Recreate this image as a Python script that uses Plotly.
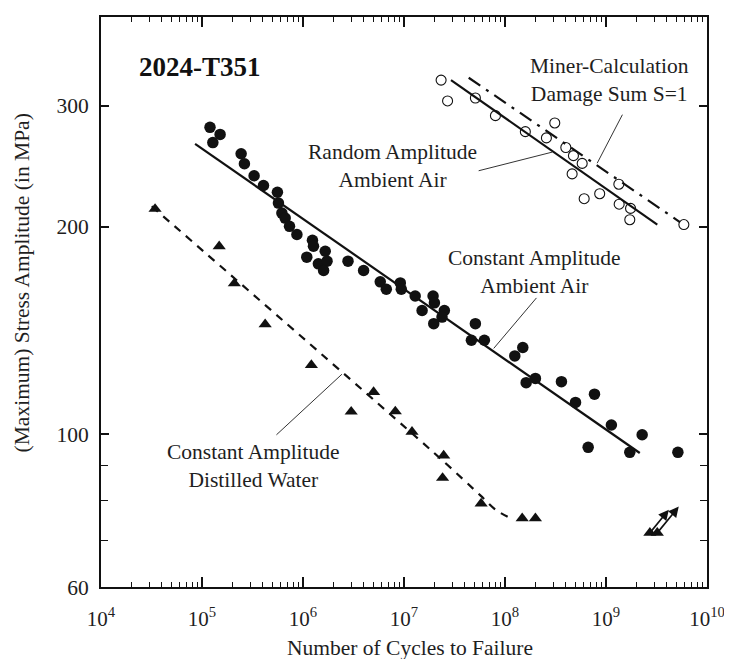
import numpy as np
import plotly.graph_objects as go

# ---------------- data ----------------
# Constant amplitude, ambient air (filled circles)
ca_air_N = [1.20e5, 1.51e5, 1.28e5, 2.44e5, 2.63e5, 3.28e5, 4.06e5, 5.58e5, 5.71e5, 6.18e5,
            6.66e5, 7.35e5, 8.70e5, 1.24e6, 1.27e6, 1.66e6, 1.09e6, 1.42e6, 1.73e6, 1.60e6,
            2.79e6, 3.98e6, 5.82e6, 6.68e6, 9.19e6, 9.40e6, 1.29e7, 1.51e7, 1.94e7, 2.00e7,
            2.51e7, 2.38e7, 1.97e7, 5.09e7, 4.65e7, 6.25e7, 1.25e8, 1.50e8, 1.62e8, 2.00e8,
            3.62e8, 4.99e8, 7.69e8, 1.13e9, 2.28e9, 6.66e8, 1.72e9, 5.15e9]
ca_air_S = [278.9, 272.4, 265.0, 255.3, 246.9, 237.2, 229.6, 224.5, 216.5, 209.4,
            205.9, 200.3, 194.9, 191.2, 187.4, 184.3, 180.7, 176.7, 178.3, 172.8,
            178.3, 172.8, 166.4, 162.3, 165.8, 162.3, 158.7, 151.2, 158.7, 155.1,
            151.2, 147.9, 144.7, 144.7, 136.9, 136.9, 129.9, 133.6, 118.8, 120.5,
            119.2, 111.2, 114.3, 103.1, 99.8, 95.7, 94.1, 94.1]
ca_air_fit_N = [8.54e4, 2.16e9]
ca_air_fit_S = [263.9, 93.9]

# Random amplitude, ambient air (open circles)
ra_N = [2.33e7, 2.70e7, 5.09e7, 8.04e7, 1.59e8, 3.11e8, 2.57e8, 4.00e8, 4.76e8,
        5.81e8, 4.62e8, 1.34e9, 8.66e8, 6.08e8, 1.35e9, 1.75e9, 1.72e9, 5.90e9]
ra_S = [326.6, 304.6, 307.6, 290.0, 274.9, 283.0, 269.2, 260.7, 253.7,
        247.2, 238.7, 230.6, 223.4, 219.7, 215.7, 212.7, 204.8, 201.5]
ra_fit_N = [2.92e7, 3.22e9]
ra_fit_S = [326.6, 201.5]

# Miner calculation, damage sum S=1
miner_N = [4.37e7, 5.39e9]
miner_S = [329.2, 203.2]

# Constant amplitude, distilled water (triangles)
dw_N = [3.43e4, 1.48e5, 2.09e5, 4.22e5, 1.21e6, 3.00e6, 5.00e6, 8.20e6, 1.20e7,
        2.47e7, 2.41e7, 5.80e7, 1.48e8, 2.00e8]
dw_S = [212.3, 187.4, 165.5, 144.4, 126.0, 107.8, 115.1, 107.9, 100.8,
        93.1, 86.4, 79.3, 75.5, 75.5]
dw_curve_N = [3.18e4, 2.29e7, 5.70e7, 8.04e7, 1.13e8]
dw_curve_S = [214.2, 92.2, 81.5, 77.7, 75.5]
# run-outs (arrows)
dw_runout_N = [2.72e9, 3.22e9]
dw_runout_S = [71.9, 71.9]
dw_runout_tip_N = [4.19e9, 5.25e9]
dw_runout_tip_S = [77.7, 78.5]

# axis ticks
x_tick_exp = [4, 5, 6, 7, 8, 9, 10]
y_tick_vals = [60, 100, 200, 300]
y_minor_vals = [70, 80, 90]

# labels: text, N, S (center), leader tip N, S, leader offset px
labels = [
    ("Random Amplitude<br>Ambient Air", 7.66e6, 244.7, 2.93e8, 256.7, -75, 19),
    ("Miner-Calculation<br>Damage Sum S=1", 1.08e9, 327.0, 8.18e8, 247.4, 26, -50),
    ("Constant Amplitude<br>Ambient Air", 1.95e8, 171.9, 7.73e7, 133.2, 44, -52),
    ("Constant Amplitude<br>Distilled Water", 3.21e5, 90.0, 2.43e6, 122.2, -67, 62),
]

FONT = "Liberation Serif"
INK = "#111111"
TXT = "#1e1e1e"

fig = go.Figure()

# fit lines
fig.add_trace(go.Scatter(x=ca_air_fit_N, y=ca_air_fit_S, mode="lines",
                         line=dict(color=INK, width=2.2)))
fig.add_trace(go.Scatter(x=ra_fit_N, y=ra_fit_S, mode="lines",
                         line=dict(color=INK, width=2.2)))
fig.add_trace(go.Scatter(x=miner_N, y=miner_S, mode="lines",
                         line=dict(color=INK, width=2.2, dash="14px,7px,3px,7px")))
fig.add_trace(go.Scatter(x=dw_curve_N, y=dw_curve_S, mode="lines",
                         line=dict(color=INK, width=2.2, dash="8px,7px", shape="spline", smoothing=0.8)))

# markers
fig.add_trace(go.Scatter(x=ca_air_N, y=ca_air_S, mode="markers",
                         marker=dict(symbol="circle", size=11.5, color=INK)))
fig.add_trace(go.Scatter(x=ra_N, y=ra_S, mode="markers",
                         marker=dict(symbol="circle-open", size=10, color=INK,
                                     line=dict(width=1.1, color=INK))))
fig.add_trace(go.Scatter(x=dw_N, y=dw_S, mode="markers",
                         marker=dict(symbol="triangle-up", size=11.5, color=INK)))
fig.add_trace(go.Scatter(x=dw_runout_N, y=dw_runout_S, mode="markers",
                         marker=dict(symbol="triangle-up", size=11.5, color=INK)))

annotations = []
for rn, rs, tn, ts in zip(dw_runout_N, dw_runout_S, dw_runout_tip_N, dw_runout_tip_S):
    annotations.append(dict(x=np.log10(tn), y=np.log10(ts), ax=np.log10(rn), ay=np.log10(rs),
                            xref="x", yref="y", axref="x", ayref="y", text="",
                            showarrow=True, arrowhead=2, arrowsize=1.3, arrowwidth=1.6,
                            arrowcolor=INK, standoff=0, startstandoff=0))

for text, n, s, tn, ts, ax, ay in labels:
    annotations.append(dict(x=np.log10(n), y=np.log10(s), xref="x", yref="y", text=text,
                            showarrow=False, font=dict(family=FONT, size=21.5, color=TXT),
                            align="center", xanchor="center", yanchor="middle"))
    annotations.append(dict(x=np.log10(tn), y=np.log10(ts), xref="x", yref="y", text="",
                            showarrow=True, arrowhead=0, arrowwidth=1, arrowcolor="#333333",
                            ax=ax, ay=ay, standoff=0, startstandoff=0))

annotations.append(dict(x=np.log10(9.57e4), y=np.log10(341.5), xref="x", yref="y",
                        text="<b>2024-T351</b>", showarrow=False,
                        font=dict(family=FONT, size=27, color=INK),
                        xanchor="center", yanchor="middle"))
# axis titles
annotations.append(dict(x=-0.13, y=0.533, xref="paper", yref="paper", textangle=-90,
                        text="(Maximum) Stress Amplitude (in MPa)", showarrow=False,
                        font=dict(family=FONT, size=21.5, color=TXT),
                        xanchor="center", yanchor="middle"))
annotations.append(dict(x=0.51, y=-0.1066, xref="paper", yref="paper",
                        text="Number of Cycles to Failure", showarrow=False,
                        font=dict(family=FONT, size=21.5, color=TXT),
                        xanchor="center", yanchor="middle"))

x_minor = [m * 10.0 ** e for e in x_tick_exp[:-1] for m in range(2, 10)]

fig.update_xaxes(type="log", range=[4, 10],
                 tickvals=[10.0 ** e for e in x_tick_exp],
                 ticktext=["10<sup>%d</sup>" % e for e in x_tick_exp],
                 ticks="inside", ticklen=10, tickwidth=1.5, tickcolor=INK,
                 showline=True, linewidth=2, linecolor=INK, mirror="allticks",
                 showgrid=False, zeroline=False, ticklabelstandoff=12,
                 tickfont=dict(family=FONT, size=21, color=TXT),
                 minor=dict(tickvals=x_minor, ticks="inside", ticklen=5, tickwidth=1.2,
                            tickcolor=INK, showgrid=False))
fig.update_yaxes(type="log", range=[np.log10(60), 2.6056],
                 tickvals=y_tick_vals, ticktext=[str(v) for v in y_tick_vals],
                 ticks="inside", ticklen=8, tickwidth=1.5, tickcolor=INK,
                 showline=True, linewidth=2, linecolor=INK, mirror="allticks",
                 showgrid=False, zeroline=False, ticklabelstandoff=6,
                 tickfont=dict(family=FONT, size=21.5, color=TXT),
                 minor=dict(tickvals=y_minor_vals, ticks="inside", ticklen=7, tickwidth=1.2,
                            tickcolor=INK, showgrid=False))

# the page places the figure 8px from the window's top-left corner
fig.update_layout(width=724, height=651, showlegend=False,
                  margin=dict(l=93, r=25, t=7, b=72),
                  paper_bgcolor="white", plot_bgcolor="white",
                  annotations=annotations)

fig.write_html("out.html")
